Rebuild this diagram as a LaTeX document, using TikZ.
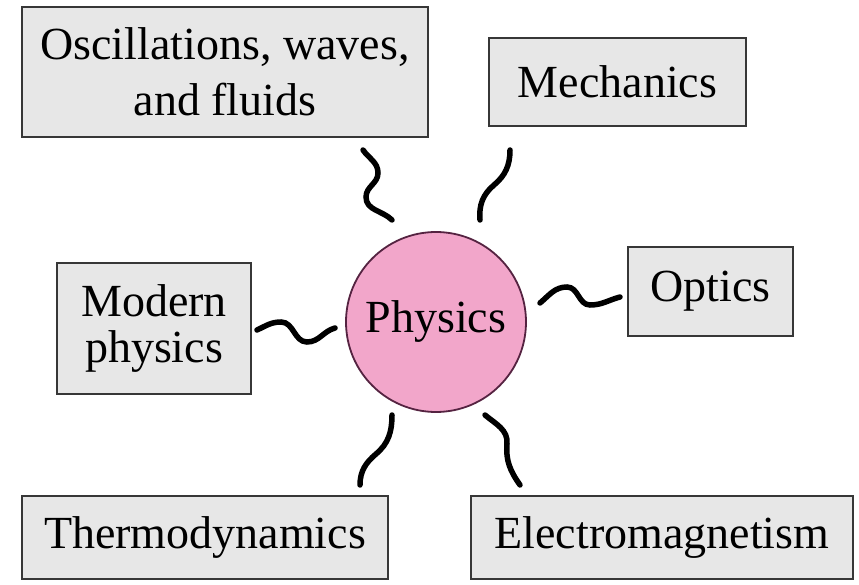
\documentclass[tikz,border=0pt]{standalone}
\usepackage{fontspec}
\setmainfont{Liberation Serif}
\usepackage{tikz}
\usetikzlibrary{positioning}
\definecolor{boxfill}{RGB}{231,231,231}
\definecolor{boxline}{RGB}{55,55,55}
\definecolor{hubfill}{RGB}{242,166,202}
\definecolor{hubline}{RGB}{85,35,65}

\begin{document}
\begin{tikzpicture}[x=1pt, y=1pt,
    font=\fontsize{46}{46}\selectfont,
    box/.style={draw=boxline, line width=2.2pt, fill=boxfill, inner sep=0pt, align=center},
    hub/.style={circle, draw=hubline, line width=1.8pt, fill=hubfill, minimum size=180pt, inner sep=0pt},
    wave/.style={line width=5.5pt, line cap=round}]
        \useasboundingbox (0,0) rectangle (859,584);
        \node[hub] (phys) at (436,262) {Physics};
        \node[box, minimum width=406pt, minimum height=130pt, font=\fontsize{46}{56}\selectfont] (osc) at (225,512) {Oscillations, waves,\\and fluids};
        \node[box, minimum width=257pt, minimum height=88pt] (mech) at (617.5,502) {Mechanics};
        \node[box, minimum width=194pt, minimum height=131pt] (mod) at (154,255.5) {Modern\\physics};
        \node[box, minimum width=165pt, minimum height=89pt] (opt) at (710.5,292.5) {Optics};
        \node[box, minimum width=366pt, minimum height=83pt] (therm) at (205,46.5) {Thermodynamics};
        \node[box, minimum width=382pt, minimum height=83pt] (em) at (662,46.5) {Electromagnetism};
        % wavy links, loose ends between hub and boxes
        \coordinate (w1s) at (363,434); \coordinate (w1e) at (392,364);
        \coordinate (w2s) at (510,434); \coordinate (w2e) at (480,364);
        \coordinate (w3s) at (392,169); \coordinate (w3e) at (360,99);
        \coordinate (w4s) at (485,169); \coordinate (w4e) at (520,99);
        \coordinate (w5s) at (257,254); \coordinate (w5e) at (335,256);
        \coordinate (w6s) at (540,281); \coordinate (w6e) at (620,287);
        \draw[wave] (w1s) to[out=-55,in=90] (378,411) to[out=-90,in=90] (366,387) to[out=-90,in=135] (w1e);
        \draw[wave] (w2s) to[out=-90,in=40] (494,399) to[out=-140,in=95] (w2e);
        \draw[wave] (w3s) to[out=-90,in=40] (376,130) to[out=-140,in=90] (w3e);
        \draw[wave] (w4s) to[out=-40,in=85] (507,140) to[out=-95,in=125] (w4e);
        \draw[wave] (w5s) to[out=25,in=180] (281,262) to[out=0,in=180] (307,242) to[out=0,in=195] (w5e);
        \draw[wave] (w6s) to[out=40,in=180] (567,297) to[out=0,in=180] (590,279) to[out=0,in=195] (w6e);
      \end{tikzpicture}
\end{document}
